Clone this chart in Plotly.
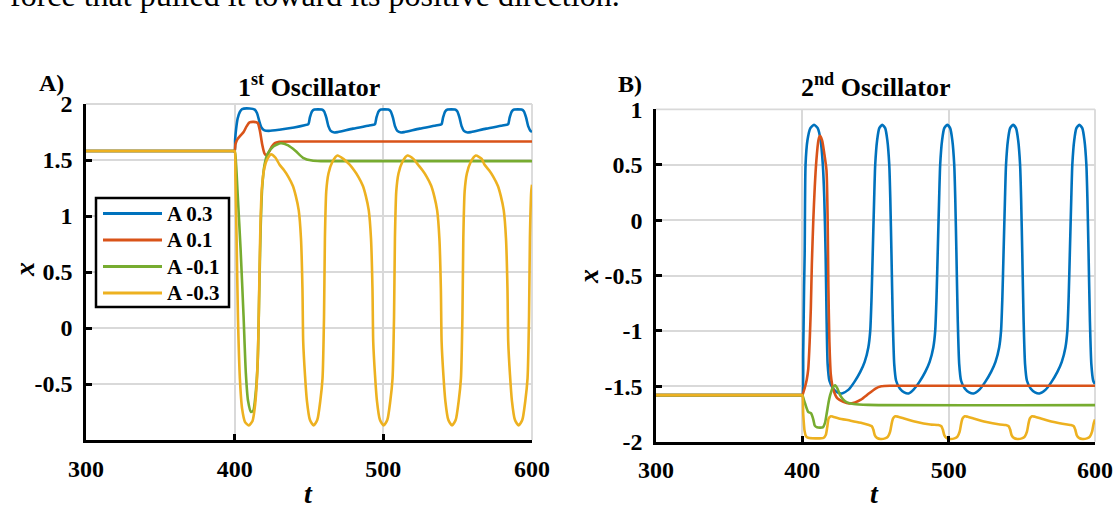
import plotly.graph_objects as go

# ---------------- data ----------------
SERIES_LABELS = ["A 0.3", "A 0.1", "A -0.1", "A -0.3"]
SERIES_COLORS = ["#0072BD", "#D95319", "#77AC30", "#EDB120"]

T_TICKS = [300, 400, 500, 600]
X1_TICKS = [-0.5, 0, 0.5, 1, 1.5, 2]
X2_TICKS = [-2, -1.5, -1, -0.5, 0, 0.5, 1]

# 1st oscillator, A = 0.3
T1_A03 = [300, 399, 400, 400.3, 401, 402, 403.5, 405, 410, 413.5, 415, 416.5, 418, 420, 423, 430, 440, 447,
          449.6, 450.6, 452.1, 453.6, 458.6, 460.1, 461.6, 463.1, 464.6, 467.1, 469.6, 479.6, 489.6, 493.4,
          494.4, 495.4, 496.9, 498.4, 503.4, 504.9, 506.4, 507.9, 509.4, 511.9, 514.4, 524.4, 534.4, 538.2,
          539.2, 540.2, 541.7, 543.2, 548.2, 549.7, 551.2, 552.7, 554.2, 556.7, 559.2, 569.2, 579.2, 583.0,
          584.0, 585.0, 586.5, 588.0, 593.0, 594.5, 596.0, 597.5, 599.0, 600]
X1_A03 = [1.58, 1.58, 1.58, 1.68, 1.78, 1.87, 1.93, 1.955, 1.96, 1.95, 1.92, 1.85, 1.79, 1.765, 1.76, 1.77, 1.79, 1.81,
          1.82, 1.88, 1.935, 1.95, 1.95, 1.935, 1.88, 1.80, 1.76, 1.745, 1.75, 1.78, 1.805, 1.815,
          1.82, 1.88, 1.935, 1.95, 1.95, 1.935, 1.88, 1.80, 1.76, 1.745, 1.75, 1.78, 1.805, 1.815,
          1.82, 1.88, 1.935, 1.95, 1.95, 1.935, 1.88, 1.80, 1.76, 1.745, 1.75, 1.78, 1.805, 1.815,
          1.82, 1.88, 1.935, 1.95, 1.95, 1.935, 1.88, 1.80, 1.76, 1.75]

# 1st oscillator, A = 0.1
T1_A01 = [300, 399, 400, 400.5, 401.8, 404, 406, 408, 410, 413, 415.5, 417, 418.5, 420, 421.5, 423, 425, 427, 430,
          440, 600]
X1_A01 = [1.58, 1.58, 1.58, 1.64, 1.685, 1.72, 1.75, 1.80, 1.835, 1.84, 1.83, 1.76, 1.64, 1.56, 1.54, 1.57, 1.62,
          1.65, 1.662, 1.665, 1.665]

# 1st oscillator, A = -0.1
T1_AM01 = [300, 399, 400, 401, 402, 404, 406, 407.5, 409, 411, 412.5, 414, 415.5, 416.5, 417.5, 418.5, 420, 422,
           426, 431, 436, 441, 446, 452, 458, 600]
X1_AM01 = [1.58, 1.58, 1.58, 1.45, 1.2, 0.7, 0.1, -0.4, -0.65, -0.75, -0.74, -0.6, -0.3, 0.3, 0.9, 1.25, 1.45,
           1.55, 1.62, 1.65, 1.63, 1.58, 1.52, 1.495, 1.49, 1.49]

# 1st oscillator, A = -0.3
T1_AM03 = [300, 399, 400, 400.5, 401.3, 402.2, 403.5, 405, 407, 409.5, 412, 413.8, 415, 416, 416.7, 417.4, 418.3,
           420, 422, 424.5, 427.5,
           430.1, 433.1, 436.1, 439.1, 441.1, 443.1, 444.6, 445.6, 446.1, 447.3, 448.6, 450.6, 453.1, 455.6, 457.6,
           459.1, 460.1, 460.7, 461.6, 463.1, 465.6, 469.1, 473.1,
           477.2, 480.2, 483.2, 486.2, 488.2, 490.2, 491.7, 492.7, 493.2, 494.4, 495.7, 497.7, 500.2, 502.7, 504.7,
           506.2, 507.2, 507.8, 508.7, 510.2, 512.7, 516.2, 520.2,
           523.2, 526.2, 529.2, 532.2, 534.2, 536.2, 537.7, 538.7, 539.2, 540.4, 541.7, 543.7, 546.2, 548.7, 550.7,
           552.2, 553.2, 553.8, 554.7, 556.2, 558.7, 562.2, 566.2,
           568.0, 571.0, 574.0, 577.0, 579.0, 581.0, 582.5, 583.5, 584.0, 585.2, 586.5, 588.5, 591.0, 593.5, 595.5,
           597.0, 598.0, 598.6, 599.5, 600]
X1_AM03 = [1.58, 1.58, 1.58, 1.35, 0.8, 0.1, -0.45, -0.72, -0.84, -0.87, -0.83, -0.68, -0.45, -0.05, 0.5, 0.95,
           1.25, 1.43, 1.51, 1.55, 1.52,
           1.46, 1.41, 1.35, 1.27, 1.18, 1.05, 0.80, 0.35, -0.12, -0.42, -0.65, -0.82, -0.87, -0.82, -0.65,
           -0.45, 0.10, 0.80, 1.22, 1.38, 1.48, 1.54, 1.51,
           1.46, 1.41, 1.35, 1.27, 1.18, 1.05, 0.80, 0.35, -0.12, -0.42, -0.65, -0.82, -0.87, -0.82, -0.65,
           -0.45, 0.10, 0.80, 1.22, 1.38, 1.48, 1.54, 1.51,
           1.46, 1.41, 1.35, 1.27, 1.18, 1.05, 0.80, 0.35, -0.12, -0.42, -0.65, -0.82, -0.87, -0.82, -0.65,
           -0.45, 0.10, 0.80, 1.22, 1.38, 1.48, 1.54, 1.51,
           1.46, 1.41, 1.35, 1.27, 1.18, 1.05, 0.80, 0.35, -0.12, -0.42, -0.65, -0.82, -0.87, -0.82, -0.65,
           -0.45, 0.10, 0.80, 1.22, 1.28]

# 2nd oscillator, A = 0.3
T2_A03 = [300, 399, 400, 400.6, 401.2, 401.6, 402.2, 403.5, 405.5, 408, 410.5, 412.5, 414, 415, 415.9, 416.6, 417.3,
          418.5, 421, 424, 427,
          431.6, 435.6, 439.6, 442.6, 445.1, 446.4, 447.3, 448.1, 449.1, 449.8, 451.1, 452.6, 454.6, 456.6, 458.1,
          459.4, 460.1, 460.9, 461.8, 462.8, 464.1, 466.6, 469.6, 472.6,
          476, 480, 484, 487, 489.5, 490.8, 491.7, 492.5, 493.5, 494.2, 495.5, 497, 499, 501, 502.5,
          503.8, 504.5, 505.3, 506.2, 507.2, 508.5, 511, 514, 517,
          521, 525, 529, 532, 534.5, 535.8, 536.7, 537.5, 538.5, 539.2, 540.5, 542, 544, 546, 547.5,
          548.8, 549.5, 550.3, 551.2, 552.2, 553.5, 556, 559, 562,
          566.3, 570.3, 574.3, 577.3, 579.8, 581.1, 582, 582.8, 583.8, 584.5, 585.8, 587.3, 589.3, 591.3, 592.8,
          594.1, 594.8, 595.6, 596.5, 597.5, 598.8, 600]
X2_A03 = [-1.58, -1.58, -1.58, -1.2, -0.6, -0.3, 0.5, 0.72, 0.83, 0.86, 0.83, 0.72, 0.5, 0.2, -0.3, -0.9, -1.3,
          -1.45, -1.52, -1.555, -1.565,
          -1.53, -1.46, -1.37, -1.28, -1.15, -1.0, -0.7, -0.3, 0.2, 0.5, 0.72, 0.83, 0.86, 0.83, 0.72,
          0.5, 0.2, -0.3, -0.9, -1.3, -1.45, -1.52, -1.555, -1.565,
          -1.53, -1.46, -1.37, -1.28, -1.15, -1.0, -0.7, -0.3, 0.2, 0.5, 0.72, 0.83, 0.86, 0.83, 0.72,
          0.5, 0.2, -0.3, -0.9, -1.3, -1.45, -1.52, -1.555, -1.565,
          -1.53, -1.46, -1.37, -1.28, -1.15, -1.0, -0.7, -0.3, 0.2, 0.5, 0.72, 0.83, 0.86, 0.83, 0.72,
          0.5, 0.2, -0.3, -0.9, -1.3, -1.45, -1.52, -1.555, -1.565,
          -1.53, -1.46, -1.37, -1.28, -1.15, -1.0, -0.7, -0.3, 0.2, 0.5, 0.72, 0.83, 0.86, 0.83, 0.72,
          0.5, 0.2, -0.3, -0.9, -1.3, -1.45, -1.48]

# 2nd oscillator, A = 0.1
T2_A01 = [300, 399, 400, 401.5, 403, 404, 405, 405.8, 406.5, 407.5, 408.5, 409.6, 411, 412, 413.5, 415, 416.5,
          417.3, 417.8, 418.5, 419.5, 421, 424, 428, 432, 436, 440, 445, 450, 454, 460, 600]
X2_A01 = [-1.58, -1.58, -1.58, -1.52, -1.44, -1.35, -1.1, -0.8, -0.4, 0.0, 0.3, 0.54, 0.72, 0.76, 0.72, 0.6, 0.45,
          0.0, -0.6, -1.1, -1.4, -1.52, -1.61, -1.64, -1.655, -1.645, -1.62, -1.57, -1.52, -1.50, -1.495, -1.495]

# 2nd oscillator, A = -0.1
T2_AM01 = [300, 399, 400, 401, 402, 404, 406, 407.5, 408.5, 410, 414, 415.5, 416.6, 418, 419, 420.5, 422.4, 424,
           425.8, 428, 430.5, 435, 445, 600]
X2_AM01 = [-1.58, -1.58, -1.58, -1.62, -1.66, -1.73, -1.745, -1.8, -1.855, -1.87, -1.87, -1.83, -1.75, -1.64,
           -1.58, -1.52, -1.49, -1.52, -1.58, -1.62, -1.645, -1.66, -1.668, -1.67]

# 2nd oscillator, A = -0.3
T2_AM03 = [300, 399, 400, 400.6, 401.5, 402.5, 404, 410, 414.5, 416, 417, 418, 419.5, 421, 425, 433, 440,
           445.5, 447.5, 448.5, 449.5, 451, 453.5, 456.5, 458.5, 460, 461, 462, 463.5, 465.5, 469.5, 477.5, 487.5,
           493, 495, 496, 497, 498.5, 501, 504, 506, 507.5, 508.5, 509.5, 511, 513, 517, 525, 535,
           539, 541, 542, 543, 544.5, 547, 550, 552, 553.5, 554.5, 555.5, 557, 559, 563, 571, 581,
           583.5, 585.5, 586.5, 587.5, 589, 591.5, 594.5, 596.5, 598, 599, 600]
X2_AM03 = [-1.58, -1.58, -1.58, -1.75, -1.90, -1.95, -1.965, -1.97, -1.965, -1.94, -1.87, -1.79, -1.77, -1.775,
           -1.79, -1.81, -1.83,
           -1.85, -1.86, -1.89, -1.94, -1.965, -1.975, -1.97, -1.955, -1.91, -1.84, -1.79, -1.77, -1.775, -1.79,
           -1.82, -1.845,
           -1.85, -1.86, -1.89, -1.94, -1.965, -1.975, -1.97, -1.955, -1.91, -1.84, -1.79, -1.77, -1.775, -1.79,
           -1.82, -1.845,
           -1.85, -1.86, -1.89, -1.94, -1.965, -1.975, -1.97, -1.955, -1.91, -1.84, -1.79, -1.77, -1.775, -1.79,
           -1.82, -1.845,
           -1.85, -1.86, -1.89, -1.94, -1.965, -1.975, -1.97, -1.955, -1.91, -1.84, -1.80]

PANEL1 = [(T1_A03, X1_A03), (T1_A01, X1_A01), (T1_AM01, X1_AM01), (T1_AM03, X1_AM03)]
PANEL2 = [(T2_A03, X2_A03), (T2_A01, X2_A01), (T2_AM01, X2_AM01), (T2_AM03, X2_AM03)]

# ---------------- figure ----------------
W, H = 1119, 509
SERIF = "Liberation Serif"
GRID = "#d9d9d9"
LINE_W = 2.6


def px_x(p):
    return p / W


def px_y(p):
    return 1 - p / H


fig = go.Figure()

for i, (t, x) in enumerate(PANEL1):
    fig.add_trace(go.Scatter(x=t, y=x, mode="lines", name=SERIES_LABELS[i],
                             line=dict(color=SERIES_COLORS[i], width=LINE_W, shape="spline", smoothing=0.6),
                             xaxis="x", yaxis="y"))
for i, (t, x) in enumerate(PANEL2):
    fig.add_trace(go.Scatter(x=t, y=x, mode="lines", name=SERIES_LABELS[i],
                             line=dict(color=SERIES_COLORS[i], width=LINE_W, shape="spline", smoothing=0.6),
                             xaxis="x2", yaxis="y2"))

tick_font = dict(family=SERIF, size=24, color="black", weight="bold")


def axis_common():
    return dict(showgrid=True, gridcolor=GRID, gridwidth=1.8, zeroline=False,
                showline=True, linecolor="black", linewidth=2.5,
                ticks="inside", ticklen=6, tickwidth=2.5, tickcolor="black",
                tickfont=tick_font, automargin=False, tickmode="array")


def x_axis(domain, anchor):
    return dict(domain=domain, anchor=anchor, range=[T_TICKS[0], T_TICKS[-1]],
                tickvals=T_TICKS, ticktext=[f"{v:g}" for v in T_TICKS],
                ticklabelstandoff=5, **axis_common())


def y_axis(domain, anchor, ticks, lo):
    return dict(domain=domain, anchor=anchor, range=[lo, max(ticks)],
                tickvals=ticks, ticktext=[f"{v:g}" for v in ticks],
                ticklabelstandoff=6, **axis_common())


fig.update_layout(
    template="none",
    width=W, height=H, autosize=False,
    margin=dict(l=0, r=0, t=0, b=0, pad=0, autoexpand=False),
    paper_bgcolor="white", plot_bgcolor="white",
    xaxis=x_axis([px_x(86), px_x(532)], "y"),
    yaxis=y_axis([px_y(440), px_y(104)], "x", X1_TICKS, -1),
    xaxis2=x_axis([px_x(656), px_x(1095)], "y2"),
    yaxis2=y_axis([px_y(441.7), px_y(109.3)], "x2", X2_TICKS, -2),
    showlegend=False,
)

# light frame on the top and right edges of each panel
for xd, yd in (("x domain", "y domain"), ("x2 domain", "y2 domain")):
    fig.add_shape(type="line", xref=xd, yref=yd, x0=0, x1=1, y0=1, y1=1,
                  line=dict(color=GRID, width=1.8), layer="below")
    fig.add_shape(type="line", xref=xd, yref=yd, x0=1, x1=1, y0=0, y1=1,
                  line=dict(color=GRID, width=1.8), layer="below")

# boxed key inside the first panel: long line samples followed by the series names
KEY_LEFT, KEY_RIGHT, KEY_TOP, KEY_BOTTOM = 96, 229, 198, 307
KEY_ROW0, KEY_ROW_STEP = 213.5, 26.5
fig.add_shape(type="rect", xref="paper", yref="paper",
              x0=px_x(KEY_LEFT), x1=px_x(KEY_RIGHT), y0=px_y(KEY_BOTTOM), y1=px_y(KEY_TOP),
              line=dict(color="black", width=2.5), fillcolor="white", layer="above")
for i, (label, color) in enumerate(zip(SERIES_LABELS, SERIES_COLORS)):
    row_y = px_y(KEY_ROW0 + i * KEY_ROW_STEP)
    fig.add_shape(type="line", xref="paper", yref="paper",
                  x0=px_x(103), x1=px_x(162), y0=row_y, y1=row_y,
                  line=dict(color=color, width=3), layer="above")
    fig.add_annotation(xref="paper", yref="paper", x=px_x(165), y=row_y, text=label, showarrow=False,
                       xanchor="left", yanchor="middle",
                       font=dict(family=SERIF, size=21, color="black", weight="bold"))

ann = [
    dict(text="force that pulled it toward its positive direction.", x=px_x(8), y=px_y(-5),
         xanchor="left", yanchor="middle", font=dict(family=SERIF, size=32, color="black")),
    dict(text="A)", x=px_x(37), y=px_y(83), xanchor="left", yanchor="middle",
         font=dict(family=SERIF, size=24, color="black", weight="bold")),
    dict(text="B)", x=px_x(616), y=px_y(84), xanchor="left", yanchor="middle",
         font=dict(family=SERIF, size=24, color="black", weight="bold")),
    dict(text="1<sup>st</sup> Oscillator", x=px_x(309), y=px_y(86), xanchor="center", yanchor="middle",
         font=dict(family=SERIF, size=26, color="black", weight="bold")),
    dict(text="2<sup>nd</sup> Oscillator", x=px_x(875.5), y=px_y(86), xanchor="center", yanchor="middle",
         font=dict(family=SERIF, size=26, color="black", weight="bold")),
    dict(text="x", x=px_x(24), y=px_y(270), xanchor="center", yanchor="middle", textangle=-90,
         font=dict(family=SERIF, size=28, color="black", weight="bold", style="italic")),
    dict(text="x", x=px_x(588), y=px_y(277), xanchor="center", yanchor="middle", textangle=-90,
         font=dict(family=SERIF, size=28, color="black", weight="bold", style="italic")),
    dict(text="t", x=px_x(308), y=px_y(493), xanchor="center", yanchor="middle",
         font=dict(family=SERIF, size=28, color="black", weight="bold", style="italic")),
    dict(text="t", x=px_x(874), y=px_y(493), xanchor="center", yanchor="middle",
         font=dict(family=SERIF, size=28, color="black", weight="bold", style="italic")),
]
for a in ann:
    fig.add_annotation(xref="paper", yref="paper", showarrow=False, **a)

fig.write_html("out.html")
